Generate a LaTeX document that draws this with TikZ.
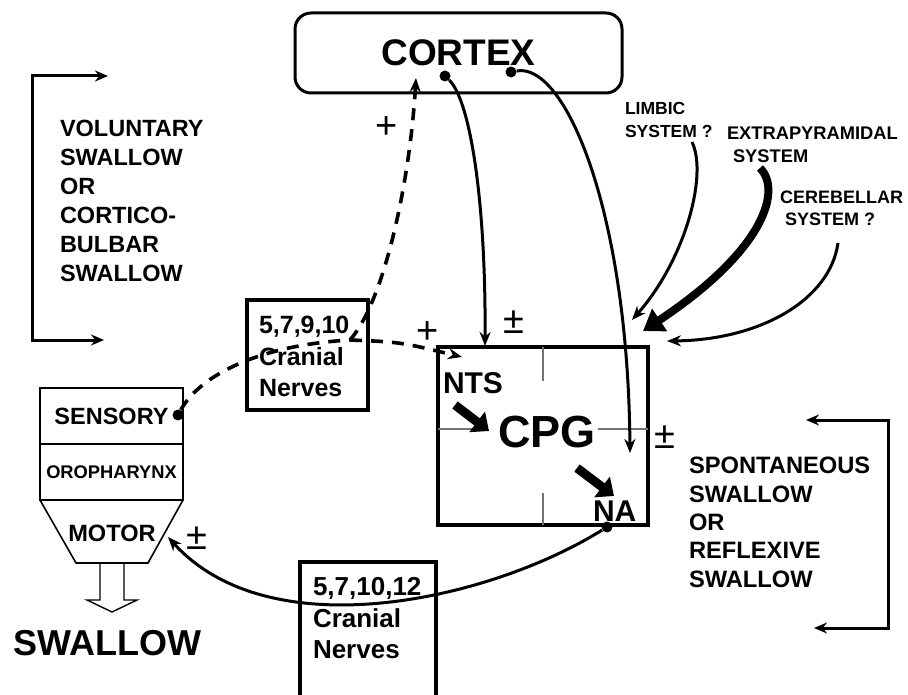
\documentclass[tikz,border=0pt]{standalone}
\usepackage{fontspec}
\setmainfont{Liberation Sans}
\usetikzlibrary{arrows.meta}
\begin{document}
\begin{tikzpicture}[x=1pt,y=-1pt,
  txt/.style={inner sep=0pt, outer sep=0pt, font=\bfseries\fontsize{#1}{#1}\selectfont},
  sgn/.style={inner sep=0pt, outer sep=0pt, font=\fontsize{#1}{#1}\selectfont},
  arr/.style={line width=3pt, -{Stealth[length=14pt,width=11pt]}},
  dsh/.style={line width=3.6pt, dash pattern=on 12pt off 9pt},
  fat/.style={line width=9pt, -{Triangle[length=15pt,width=25pt]}},
  boxx/.style={draw, line width=3.4pt, inner sep=0pt},
  thin/.style={draw, line width=1.6pt, inner sep=0pt},
  tick/.style={draw=black!55, line width=1.4pt},
  dot/.style={fill=black, circle, inner sep=0pt, minimum size=11pt}
]
\useasboundingbox (0,0) rectangle (908,695);
\clip (0,0) rectangle (908,695);

% ---- CORTEX
\node[draw, line width=3pt, rounded corners=16pt, minimum width=327pt, minimum height=80pt,
      txt=37] (cortex) at (458.5,53) {CORTEX};
\node[dot] (d1) at (445,76) {};
\node[dot] (d2) at (511,72) {};

% ---- left bracket + text
\coordinate (lt) at (108,76);
\coordinate (lb) at (104,340);
\draw[line width=3pt, {Stealth[length=13pt,width=11pt]}-{Stealth[length=13pt,width=11pt]}]
  (lt) -- (32,76) -- (32,340) -- (lb);
\node[txt=23.5, anchor=base west] (v1) at (60,137) {VOLUNTARY};
\node[txt=23.5, anchor=base west] (v2) at (60,166) {SWALLOW};
\node[txt=23.5, anchor=base west] (v3) at (60,195) {OR};
\node[txt=23.5, anchor=base west] (v4) at (60,224) {CORTICO-};
\node[txt=23.5, anchor=base west] (v5) at (60,253) {BULBAR};
\node[txt=23.5, anchor=base west] (v6) at (60,281) {SWALLOW};

% ---- right bracket + text
\coordinate (rt) at (806,420);
\coordinate (rb) at (814,628);
\draw[line width=3pt, {Stealth[length=13pt,width=11pt]}-{Stealth[length=13pt,width=11pt]}]
  (rt) -- (888,420) -- (888,628) -- (rb);
\node[txt=23.7, anchor=base west] (s1) at (689,473) {SPONTANEOUS};
\node[txt=23.7, anchor=base west] (s2) at (689,502) {SWALLOW};
\node[txt=23.7, anchor=base west] (s3) at (689,530) {OR};
\node[txt=23.7, anchor=base west] (s4) at (689,558) {REFLEXIVE};
\node[txt=23.7, anchor=base west] (s5) at (689,587) {SWALLOW};

% ---- oropharynx stack
\node[thin, minimum width=143pt, minimum height=56pt, txt=23.5] (sens) at (111.5,416) {SENSORY};
\node[thin, minimum width=143pt, minimum height=56pt, txt=18.3] (oro) at (111.5,472) {OROPHARYNX};
\draw[line width=1.6pt] (oro.south west) -- (76,563) -- (148,563) -- (oro.south east);
\node[txt=23.6] (motor) at (112,533) {MOTOR};
\coordinate (mtip) at (168,537);
\draw[line width=1.4pt] (100,563) -- (100,600) -- (87,600) -- (112,612) -- (137,600) -- (124,600) -- (124,563);
\node[txt=36] (swallow) at (107,643) {SWALLOW};
\node[dot] (sdot) at (178,415) {};

% ---- upper cranial nerves box
\node[boxx, minimum width=121pt, minimum height=110pt] (cn1) at (307.5,355) {};
\node[txt=25, anchor=base west] (cn1a) at (259,333) {5,7,9,10};
\node[txt=25, anchor=base west] (cn1b) at (259,365) {Cranial};
\node[txt=25, anchor=base west] (cn1c) at (259,396) {Nerves};

% ---- lower cranial nerves box
\node[boxx, minimum width=136pt, minimum height=160pt] (cn2) at (368,642) {};
\node[txt=26, anchor=base west] (cn2a) at (313,595) {5,7,10,12};
\node[txt=26, anchor=base west] (cn2b) at (313,627) {Cranial};
\node[txt=26, anchor=base west] (cn2c) at (313,658) {Nerves};

% ---- CPG box
\node[draw, line width=3.8pt, minimum width=210pt, minimum height=178pt, inner sep=0pt] (cpg) at (543,436) {};
\draw[tick] (543,347) -- (543,381);
\draw[tick] (543,493) -- (543,525);
\draw[tick] (438,429) -- (487,429);
\draw[tick] (598,429) -- (648,429);
\node[txt=45] (cpgt) at (547,432) {CPG};
\node[txt=30, anchor=base west] (nts) at (443,393) {NTS};
\node[txt=30, anchor=base west] (na) at (593,521) {NA};
\coordinate (f1a) at (455,405);
\coordinate (f1b) at (489,431);
\coordinate (f2a) at (577,468);
\coordinate (f2b) at (614,496);
\draw[fat] (f1a) -- (f1b);
\draw[fat] (f2a) -- (f2b);
\node[dot] (nadot) at (607,527) {};

% ---- labels of other systems
\node[txt=17.5, anchor=base west] (lim1) at (625,115) {LIMBIC};
\node[txt=17.5, anchor=base west] (lim2) at (625,138) {SYSTEM ?};
\node[txt=18.3, anchor=base west] (ext1) at (727,140) {EXTRAPYRAMIDAL};
\node[txt=18.3, anchor=base west] (ext2) at (733,163) {SYSTEM};
\node[txt=18, anchor=base west] (cer1) at (780,204) {CEREBELLAR};
\node[txt=18, anchor=base west] (cer2) at (785,226) {SYSTEM ?};

% ---- signs
\node[sgn=38] (p1) at (387,128) {+};
\node[sgn=38] (p2) at (428,333) {+};
\node[sgn=38] (pm1) at (514,322) {±};
\node[sgn=38] (pm2) at (665,437) {±};
\node[sgn=38] (pm3) at (197,538) {±};

% ---- connectors
\coordinate (br) at (350,340);
\coordinate (ctip) at (416,78);
\coordinate (ntip) at (462,357);
\coordinate (cpgtop) at (485,346);
\coordinate (cpgin) at (630,453);
\coordinate (limtip) at (632,320);
\coordinate (exttip) at (643,331);
\coordinate (certip) at (667,341);
\coordinate (lims) at (692,142);
\coordinate (exts) at (760,168);
\coordinate (cers) at (838,243);

\draw[arr] (d1) .. controls (470,100) and (486,200) .. (cpgtop);
\draw[arr] (d2) .. controls (565,62) and (628,210) .. (cpgin);
\draw[dsh] (sdot) .. controls (200,375) and (260,345) .. (br);
\draw[dsh, -{Stealth[length=14pt,width=11pt]}] (br) .. controls (385,300) and (410,180) .. (ctip);
\draw[dsh, -{Stealth[length=14pt,width=11pt]}] (br) .. controls (400,342) .. (ntip);
\draw[arr] (nadot) .. controls (490,600) and (270,650) .. (mtip);
\draw[arr] (lims) .. controls (708,175) and (685,260) .. (limtip);
\draw[line width=8pt, -{Triangle[length=20pt,width=26pt]}] (exts) .. controls (782,190) and (765,250) .. (exttip);
\draw[arr] (cers) .. controls (830,300) and (760,340) .. (certip);
\end{tikzpicture}
\end{document}
